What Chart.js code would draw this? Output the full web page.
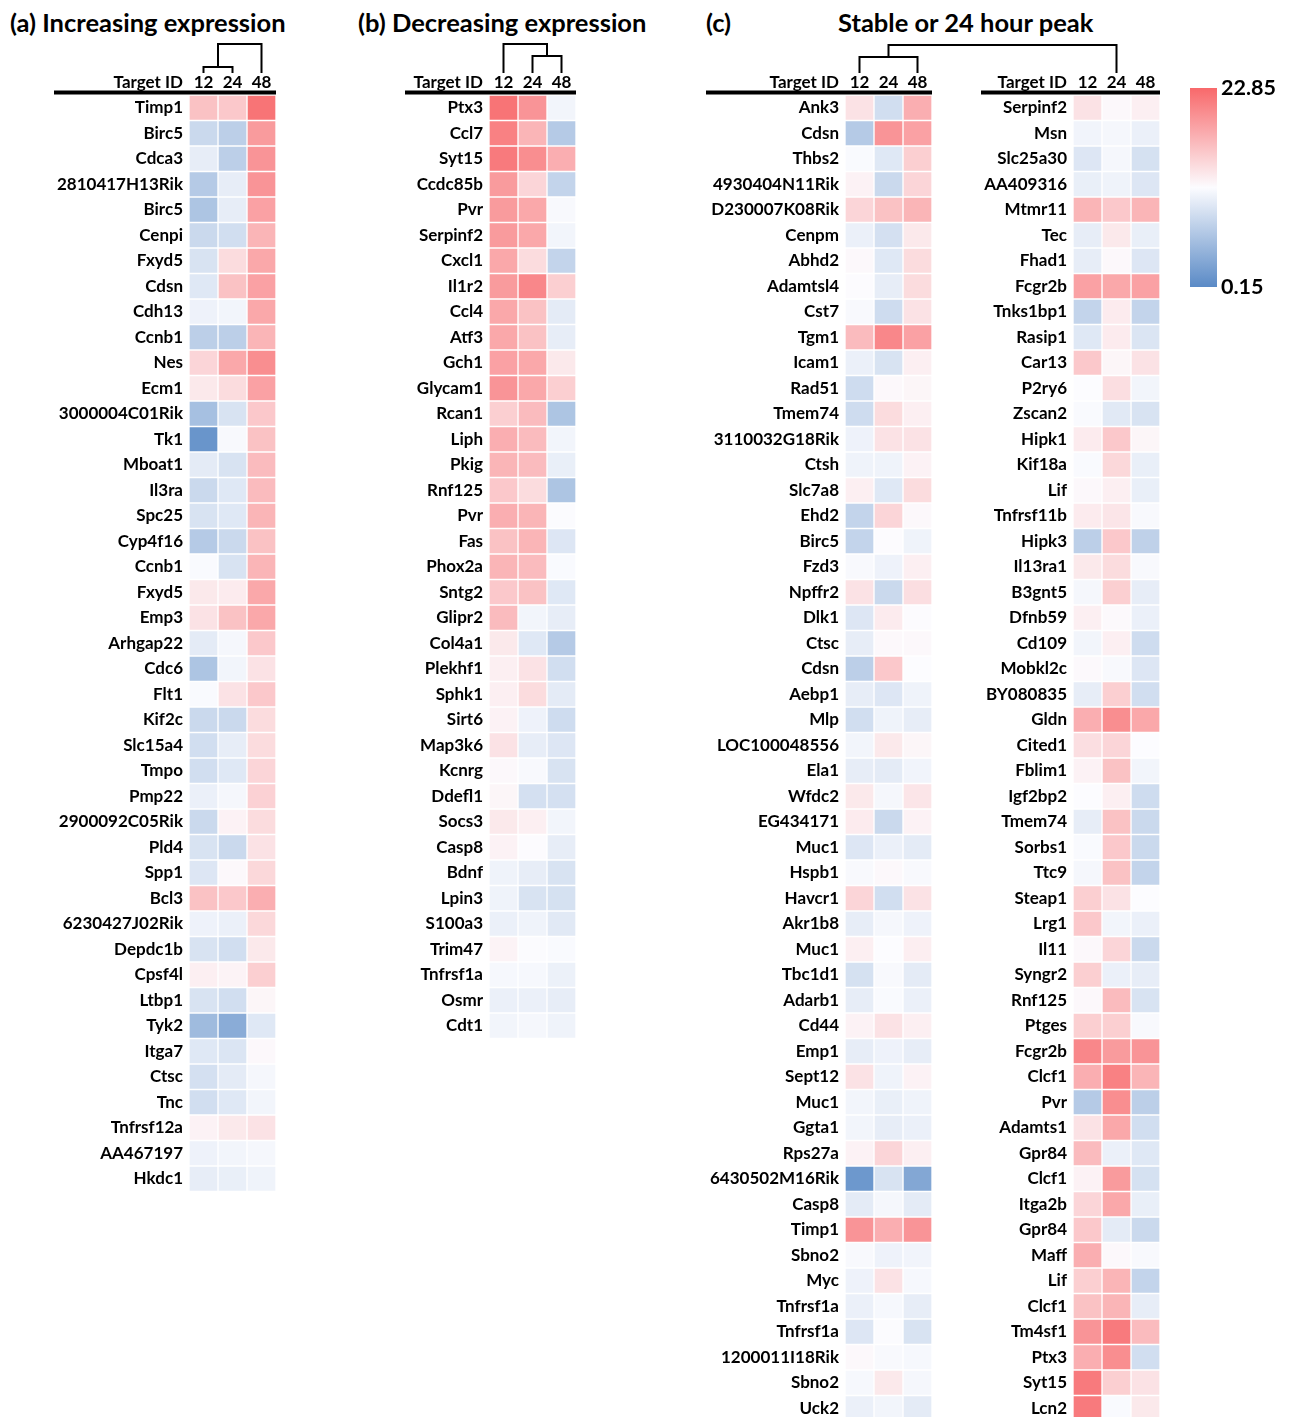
<!DOCTYPE html>
<html>
<head>
<meta charset="utf-8">
<style>
  body { margin: 0; background: #fff; }
  #page { position: relative; width: 1289px; height: 1417px; overflow: hidden; }
  #page canvas { position: absolute; top: 0; }
  .title { position: absolute; top: 9px; font: bold 25.5px Lato, sans-serif; line-height: 26px; color: #000; white-space: nowrap; }
</style>
</head>
<body>
<div id="page">
  <div class="title" style="left:10px">(a) Increasing expression</div>
  <div class="title" style="left:358px">(b) Decreasing expression</div>
  <div class="title" style="left:706px">(c)</div>
  <div class="title" style="left:838px">Stable or 24 hour peak</div>
  <canvas id="chartA" width="230" height="1200" style="left:54px"></canvas>
  <canvas id="chartB" width="180" height="1040" style="left:405px"></canvas>
  <canvas id="chartCL" width="419" height="1423" style="left:706px"></canvas>
  <canvas id="chartCR" width="188" height="1423" style="left:981px"></canvas>
  <canvas id="scaleBar" width="108" height="240" style="left:1185px; top:70px"></canvas>
</div>

<script src="https://cdn.jsdelivr.net/npm/chart.js"></script>
<script>
// ---- data ----
const times = ['12', '24', '48'];
const LOW = 0.15, HIGH = 22.85;

const genesA = ['Timp1','Birc5','Cdca3','2810417H13Rik','Birc5','Cenpi','Fxyd5','Cdsn','Cdh13','Ccnb1','Nes','Ecm1',
  '3000004C01Rik','Tk1','Mboat1','Il3ra','Spc25','Cyp4f16','Ccnb1','Fxyd5','Emp3','Arhgap22','Cdc6','Flt1','Kif2c',
  'Slc15a4','Tmpo','Pmp22','2900092C05Rik','Pld4','Spp1','Bcl3','6230427J02Rik','Depdc1b','Cpsf4l','Ltbp1','Tyk2',
  'Itga7','Ctsc','Tnc','Tnfrsf12a','AA467197','Hkdc1'];
const a12 = [16,8,10,6.5,6,8,9,9.5,10.5,7,14.5,13,5.5,1.2,9.8,8,9,6.5,11.3,13,13.5,9.8,6,11.3,8,8.5,8.5,10.3,8,9,9.3,16,10.5,9,12.5,9,5,9.5,8.7,8.5,12.3,10.5,10];
const a24 = [15.5,7,7,10,10,8.5,14,16,10.8,7,18,14,9,11.2,9,9.5,9.5,8,9,12.8,16,11,10.8,13.5,8,10,9.5,11,12.3,8,11.8,15.5,10.3,8.5,12.2,8.5,3.5,9.2,9.8,9.5,13,10.8,10.2];
const a48 = [22,19,19.5,19.5,18.5,17,18,18.5,18,17,20,18.5,15.5,16,16.5,16.5,17,16,17,18,18,15.5,13.5,15.5,14,14,14.5,14.8,14,13.5,14.3,17.5,14.3,13,15,12,9.5,11.8,11,10.8,13.5,11,10.6];

const genesB = ['Ptx3','Ccl7','Syt15','Ccdc85b','Pvr','Serpinf2','Cxcl1','Il1r2','Ccl4','Atf3','Gch1','Glycam1','Rcan1',
  'Liph','Pkig','Rnf125','Pvr','Fas','Phox2a','Sntg2','Glipr2','Col4a1','Plekhf1','Sphk1','Sirt6','Map3k6','Kcnrg',
  'Ddefl1','Socs3','Casp8','Bdnf','Lpin3','S100a3','Trim47','Tnfrsf1a','Osmr','Cdt1'];
const b12 = [22,21,21.5,19,19,19,18,19,18,18,18.5,19.5,15,17.5,17,15.5,17.5,16,17,15.5,16.5,13,12.5,12.5,12.3,13.5,11.8,12,13,12.3,10.6,10.6,10.3,12.2,11.1,10.3,10.8];
const b24 = [19.5,17,20,14.5,18,18,14,20.5,16,16,18,18,16.5,16.5,16.5,14,17,17,16.5,16,10.8,9.5,13.5,14,10.5,10,11.2,8.7,12.5,11.6,10,9,10.6,11.4,11.1,10.3,11];
const b48 = [10.8,6.5,17.5,7.5,11.2,10.8,7.5,15,9.8,10,13,15,6,10.8,10.2,6,11.4,9.3,11.3,9.5,10,6.5,8.5,9.8,8.3,9.3,9,8.7,10.8,10,9,8.8,9.6,11.3,10.4,10,10.6];

const genesCL = ['Ank3','Cdsn','Thbs2','4930404N11Rik','D230007K08Rik','Cenpm','Abhd2','Adamtsl4','Cst7','Tgm1','Icam1',
  'Rad51','Tmem74','3110032G18Rik','Ctsh','Slc7a8','Ehd2','Birc5','Fzd3','Npffr2','Dlk1','Ctsc','Cdsn','Aebp1','Mlp',
  'LOC100048556','Ela1','Wfdc2','EG434171','Muc1','Hspb1','Havcr1','Akr1b8','Muc1','Tbc1d1','Adarb1','Cd44','Emp1',
  'Sept12','Muc1','Ggta1','Rps27a','6430502M16Rik','Casp8','Timp1','Sbno2','Myc','Tnfrsf1a','Tnfrsf1a','1200011I18Rik',
  'Sbno2','Uck2'];
const cl12 = [13.5,6.5,11.3,12.3,14.5,10.3,11.8,11.6,11.2,16.5,10.3,8.3,8.3,10.5,10.6,12.5,7.5,7.5,11.2,13.5,9.3,10,7,10,8.5,10.8,10,13,12.8,9.3,11.2,14.5,10,12.5,8.8,10,12.3,10,13.5,10.8,10.8,12.3,1.5,9.8,19.5,11.2,10.5,10.3,9.3,11.8,11.1,10.3];
const cl24 = [8.5,19.5,9.5,8,16,8.7,9.5,10,8.3,20.5,9,11.8,14,13.5,10.6,9.5,14.5,11.6,10.5,8,12.8,11.8,15.5,9.3,10.6,13,9.8,11,8,10.3,11.8,8.5,11,11.5,11.2,11.3,13.5,10.5,10.6,10.2,10,14.5,9,11,17.5,10.5,13.5,11.1,11.4,11.2,13,10.8];
const cl48 = [17.5,18.5,15,14.5,17,13,14,14,13.5,18.5,12.5,12,12.5,13.5,12.3,14,11.8,10.6,12.5,13.8,11.6,11.8,11.5,10.6,10,12,10.7,13.3,12.3,9.8,11.2,13.5,10.5,12.6,9.8,10.3,12.5,10,12.3,10.6,10.3,12.5,3,9.8,19.5,10.7,11.1,10,9,11.1,11,9.8];

const genesCR = ['Serpinf2','Msn','Slc25a30','AA409316','Mtmr11','Tec','Fhad1','Fcgr2b','Tnks1bp1','Rasip1','Car13','P2ry6',
  'Zscan2','Hipk1','Kif18a','Lif','Tnfrsf11b','Hipk3','Il13ra1','B3gnt5','Dfnb59','Cd109','Mobkl2c','BY080835','Gldn',
  'Cited1','Fblim1','Igf2bp2','Tmem74','Sorbs1','Ttc9','Steap1','Lrg1','Il11','Syngr2','Rnf125','Ptges','Fcgr2b','Clcf1',
  'Pvr','Adamts1','Gpr84','Clcf1','Itga2b','Gpr84','Maff','Lif','Clcf1','Tm4sf1','Ptx3','Syt15','Lcn2'];
const cr12 = [13.5,10.7,9.3,10.2,17,10,10,18.5,7.5,9.5,15.5,11.5,11.3,12.8,11.3,11.8,12.8,7,13,11,12.5,10.8,11.7,10,17.5,13.8,12.3,11.5,10,11.3,11,15,15.5,11.8,15,11.8,15,20.5,17.5,6.5,13.5,16.5,12.3,14.5,15.5,17.5,15,16,19.5,17.5,21.5,21.5];
const cr24 = [11.8,11,11,10.6,15.5,13,11.8,18,12.8,12.8,12,13.8,9.6,15.5,14.3,12.5,13.3,15.5,14,15,11.7,12.5,11.2,15,20,14.5,16,12.5,16,15.5,16,13.5,10.8,14.5,10.3,16.5,15,19,21,20,18,10.3,19,18,9.8,11.8,17,17,21.5,20,15,11.3];
const cr48 = [12.5,10.3,8.8,9.3,17,10.2,9.3,18.5,7.5,9.2,13.5,10.8,9,12,10.2,10.2,11.2,7.2,11.2,10,10.3,8.3,9.3,8.5,18,11.5,10.8,8.3,8,8,7.5,11.5,10.3,8,10,9,11.2,19.5,17,7,8.5,9.5,8.8,10.2,8,11.2,7.5,10,16.5,8.5,13.5,13];

// ---- colour scale (blue - white - red) ----
const C_LOW = [90, 138, 198], C_MID = [252, 252, 255], C_HIGH = [248, 105, 107];
const rgb = c => 'rgb(' + c.map(Math.round).join(',') + ')';
function cellColor(v) {
  let t = (v - LOW) / (HIGH - LOW);
  t = Math.max(0, Math.min(1, t));
  const [a, b, f] = t < 0.5 ? [C_LOW, C_MID, t * 2] : [C_MID, C_HIGH, (t - 0.5) * 2];
  return rgb(a.map((x, i) => x + (b[i] - x) * f));
}

const ROW = 25.5, TOP = 95, CELLS_W = 87, LEAF_Y = 72;
const FONT = 'Lato, sans-serif';
const dendros = {};
const charts = {};

// stop Chart.js from reserving room for half-labels at the ends of an axis
function noEdgePad(s) {
  s.paddingTop = 0; s.paddingBottom = 0; s.paddingLeft = 0; s.paddingRight = 0;
}

// header line, "Target ID" and dendrogram
const headerPlugin = {
  id: 'header',
  afterDraw(chart) {
    const { ctx, chartArea, scales } = chart;
    ctx.save();
    ctx.fillStyle = '#000';
    ctx.fillRect(0, chartArea.top - 4.5, chartArea.right, 4);
    ctx.font = 'bold 17px ' + FONT;
    ctx.textAlign = 'right';
    ctx.textBaseline = 'middle';
    ctx.fillText('Target ID', chartArea.left - 6, chartArea.top - 12.2);

    const d = dendros[chart.canvas.id];
    if (d) {
      const nodes = times.map((t, i) => ({ x: scales.x.getPixelForValue(i + 0.5), y: LEAF_Y }));
      if (d.other) {
        const o = charts[d.other];
        const dx = o.canvas.offsetLeft - chart.canvas.offsetLeft;
        times.forEach((t, i) => nodes.push({ x: o.scales.x.getPixelForValue(i + 0.5) + dx, y: LEAF_Y }));
      }
      ctx.strokeStyle = '#000';
      ctx.lineWidth = 2;
      ctx.lineCap = 'square';
      d.merges.forEach(([l, r, h]) => {
        const A = nodes[l], B = nodes[r];
        ctx.beginPath();
        ctx.moveTo(A.x, A.y); ctx.lineTo(A.x, h);
        ctx.lineTo(B.x, h); ctx.lineTo(B.x, B.y);
        ctx.stroke();
        nodes.push({ x: (A.x + B.x) / 2, y: h });
      });
    }
    ctx.restore();
  }
};

function heatmap(id, genes, v12, v24, v48, axisW) {
  const canvas = document.getElementById(id);
  const cols = [v12, v24, v48];
  return new Chart(canvas, {
    type: 'bar',
    data: {
      labels: genes,
      datasets: cols.map((vals, i) => ({
        label: times[i] + ' h',
        data: vals.map(() => 1),
        values: vals,
        backgroundColor: vals.map(cellColor),
        borderColor: '#ffffff',
        borderWidth: 1,
        borderSkipped: false,
        barPercentage: 1,
        categoryPercentage: 1
      }))
    },
    options: {
      indexAxis: 'y',
      responsive: false,
      animation: false,
      layout: { padding: { top: TOP - 26, bottom: canvas.height - TOP - genes.length * ROW, left: 0, right: canvas.width - axisW - CELLS_W } },
      scales: {
        x: {
          position: 'top', stacked: true, min: 0, max: 3,
          grid: { display: false, drawTicks: false }, border: { display: false },
          afterBuildTicks: s => { s.ticks = times.map((t, i) => ({ value: i + 0.5 })); },
          afterFit: s => { s.height = 26; noEdgePad(s); },
          ticks: { padding: 2, color: '#000', font: { family: FONT, weight: 'bold', size: 17 },
                   callback: (v, i) => times[i] }
        },
        y: {
          stacked: true,
          grid: { display: false, drawTicks: false }, border: { display: false },
          afterFit: s => { s.width = axisW; noEdgePad(s); },
          ticks: { autoSkip: false, padding: 6, color: '#000', font: { family: FONT, weight: 'bold', size: 17 } }
        }
      },
      plugins: {
        legend: { display: false },
        tooltip: { callbacks: { label: c => c.dataset.label + ': ' + c.dataset.values[c.dataIndex] } }
      }
    },
    plugins: [headerPlugin]
  });
}

function draw() {
  dendros.chartA = { merges: [[0, 1, 67], [3, 2, 44]] };
  dendros.chartB = { merges: [[1, 2, 56], [0, 3, 44]] };
  dendros.chartCL = { other: 'chartCR', merges: [[0, 2, 57], [6, 4, 45]] };

  charts.chartA = heatmap('chartA', genesA, a12, a24, a48, 135);
  charts.chartB = heatmap('chartB', genesB, b12, b24, b48, 84);
  charts.chartCR = heatmap('chartCR', genesCR, cr12, cr24, cr48, 92);
  charts.chartCL = heatmap('chartCL', genesCL, cl12, cl24, cl48, 139);

  // colour key
  new Chart(document.getElementById('scaleBar'), {
    type: 'bar',
    data: {
      labels: [''],
      datasets: [{
        data: [[LOW, HIGH]],
        barPercentage: 1, categoryPercentage: 1,
        backgroundColor: c => {
          const a = c.chart.chartArea;
          if (!a) return rgb(C_MID);
          const g = c.chart.ctx.createLinearGradient(0, a.bottom, 0, a.top);
          g.addColorStop(0, rgb(C_LOW));
          g.addColorStop(0.5, rgb(C_MID));
          g.addColorStop(1, rgb(C_HIGH));
          return g;
        }
      }]
    },
    options: {
      responsive: false,
      animation: false,
      layout: { padding: { left: 5, top: 18, bottom: 23, right: 0 } },
      scales: {
        x: { display: false },
        y: {
          position: 'right', min: LOW, max: HIGH,
          grid: { display: false, drawTicks: false }, border: { display: false },
          afterBuildTicks: s => { s.ticks = [{ value: LOW }, { value: HIGH }]; },
          afterFit: s => { s.width = 76; noEdgePad(s); },
          ticks: { padding: 4, color: '#000', font: { family: FONT, weight: 'bold', size: 21.5 },
                   callback: v => v.toFixed(2) }
        }
      },
      plugins: { legend: { display: false }, tooltip: { enabled: false } }
    }
  });
}

document.fonts.load('bold 17px Lato').then(draw, draw);
</script>
</body>
</html>
